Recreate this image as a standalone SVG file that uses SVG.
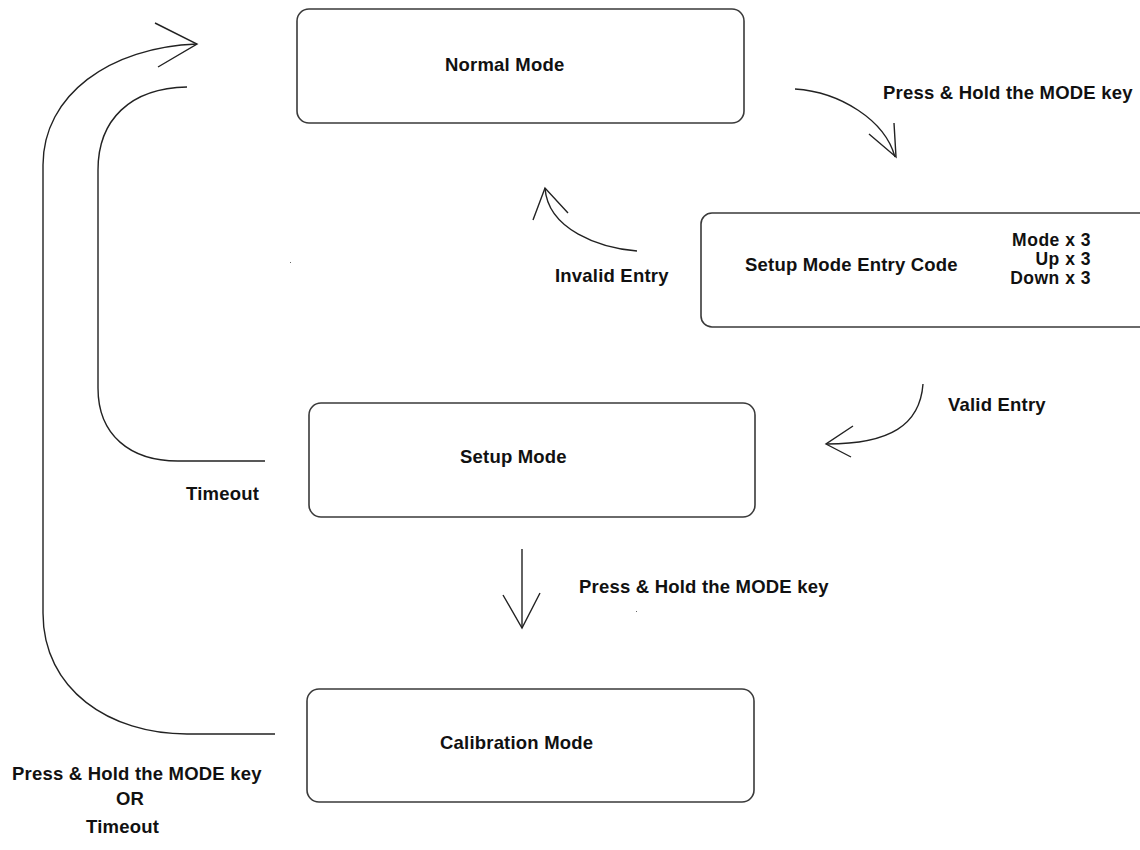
<svg xmlns="http://www.w3.org/2000/svg" width="1140" height="850" viewBox="0 0 1140 850">
<style>
.box{fill:#fff;stroke:#3a3a3a;stroke-width:1.6}
.t{font-family:"Liberation Sans",Arial,sans-serif;font-weight:bold;font-size:18.5px;fill:#111;letter-spacing:0.2px}
.s{font-size:17.5px;letter-spacing:0.5px}
.c{fill:none;stroke:#222;stroke-width:1.4}
</style>
<rect width="1140" height="850" fill="#fff"/>
<g id="connectors">
<path class="c" d="M275 734 L187 734 C110 734 43 690 43 613 L43 165 C43 95 110 47 197 44"/>
<path class="c" d="M155 23 L197 44 L158 67"/>
<path class="c" d="M187 87 C130 88 98 120 98 170 L98 388 C98 435 130 461 178 461 L265 461"/>
<path class="c" d="M795 89 C840 92 885 120 895 157"/>
<path class="c" d="M894 123 L896 157 L869 134"/>
<path class="c" d="M637 251 C600 248 548 230 545 188"/>
<path class="c" d="M533 220 L545 188 L568 213"/>
<path class="c" d="M923 384 C920 425 890 444 827 444"/>
<path class="c" d="M853 426 L826 444 L851 457"/>
<path class="c" d="M522 549 L522 628"/>
<path class="c" d="M503 595 L522 628 L540 593"/>
</g>
<g id="normal-mode">
<rect class="box" x="297" y="9" width="447" height="114" rx="12"/>
<text class="t" x="445" y="71">Normal Mode</text>
</g>
<g id="entry-code">
<rect class="box" x="701" y="213" width="470" height="114" rx="11"/>
<text class="t" x="745" y="271">Setup Mode Entry Code</text>
<text class="t s" x="1091" y="246" text-anchor="end">Mode x 3</text>
<text class="t s" x="1091" y="265" text-anchor="end">Up x 3</text>
<text class="t s" x="1091" y="284" text-anchor="end">Down x 3</text>
</g>
<g id="setup-mode">
<rect class="box" x="309" y="403" width="446" height="114" rx="12"/>
<text class="t" x="460" y="463">Setup Mode</text>
</g>
<g id="calibration-mode">
<rect class="box" x="307" y="689" width="447" height="113" rx="12"/>
<text class="t" x="440" y="749">Calibration Mode</text>
</g>
<g id="labels">
<text class="t" x="883" y="99">Press &amp; Hold the MODE key</text>
<text class="t" x="555" y="282">Invalid Entry</text>
<text class="t" x="948" y="411">Valid Entry</text>
<text class="t" x="186" y="500">Timeout</text>
<text class="t" x="579" y="593">Press &amp; Hold the MODE key</text>
<text class="t" x="12" y="780">Press &amp; Hold the MODE key</text>
<text class="t" x="116" y="805">OR</text>
<text class="t" x="86" y="833">Timeout</text>
</g>
<rect x="290" y="262" width="1" height="1" fill="#666"/>
<rect x="636" y="611" width="1" height="1" fill="#666"/>
</svg>
